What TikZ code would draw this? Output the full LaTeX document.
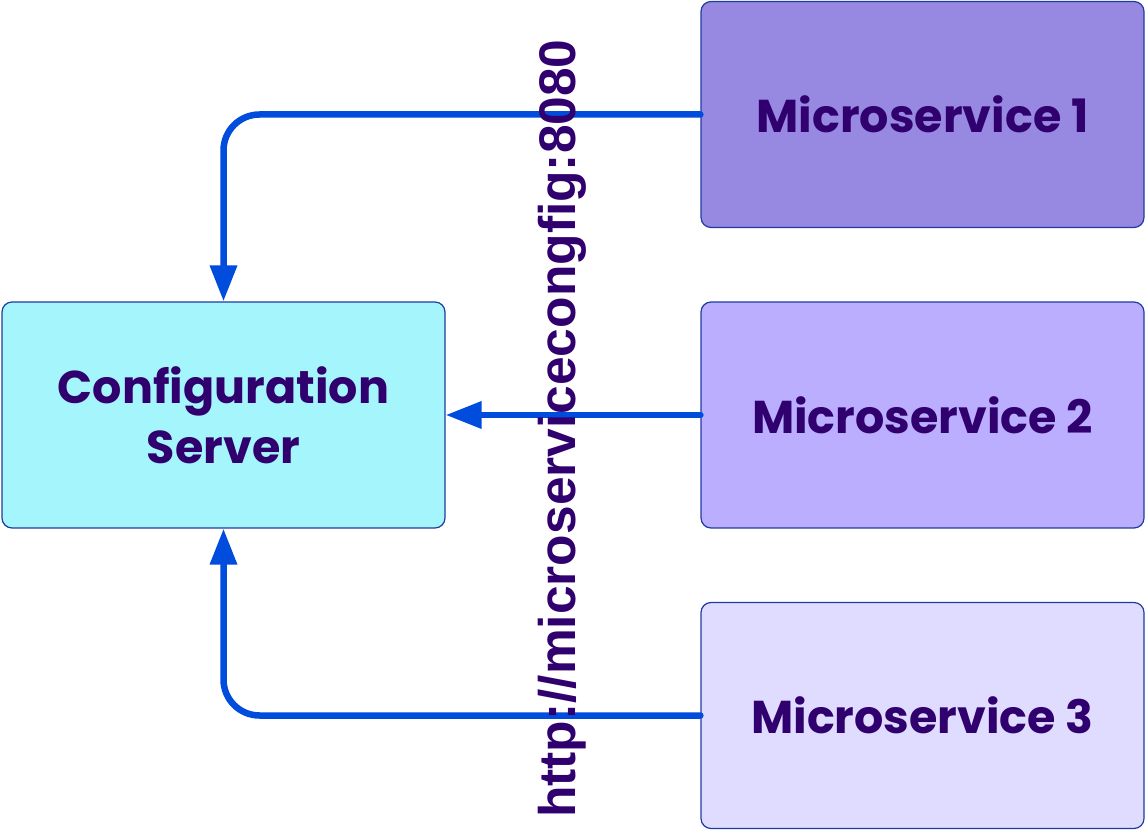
\documentclass[tikz,border=0pt]{standalone}
\usepackage{fontspec}
\setmainfont{Poppins}
\newfontfamily\urlfont{Liberation Sans}
\usetikzlibrary{arrows.meta}
\definecolor{txtc}{RGB}{48,0,110}
\definecolor{edgec}{RGB}{30,60,160}
\definecolor{arrc}{RGB}{0,76,220}
\definecolor{cfgfill}{RGB}{165,246,252}
\definecolor{msafill}{RGB}{151,136,225}
\definecolor{msbfill}{RGB}{187,174,255}
\definecolor{mscfill}{RGB}{224,220,255}
\tikzset{
  boxnode/.style={draw=edgec, line width=1.2pt, rounded corners=10pt,
    minimum width=443pt, minimum height=226pt, inner sep=0pt,
    text=txtc, align=center,
    font=\fontsize{46}{60}\selectfont\bfseries},
  conn/.style={draw=arrc, line width=6.5pt, rounded corners=36pt, line cap=round,
    -{Triangle[length=36pt,width=26pt]}},
  urllabel/.style={text=txtc, rotate=90, anchor=base west, inner sep=0pt,
    font=\fontsize{51.5}{60}\selectfont\urlfont\bfseries}
}
\begin{document}
\begin{tikzpicture}[x=1pt,y=1pt]
\useasboundingbox (0,0) rectangle (1145,830);
\node[boxnode, fill=cfgfill] (cfg) at (223.5,415) {Configuration\\Server};
\node[boxnode, fill=msafill] (ms1) at (922.5,715.5) {Microservice 1};
\node[boxnode, fill=msbfill] (ms2) at (922.5,415) {Microservice 2};
\node[boxnode, fill=mscfill] (ms3) at (922.5,114.5) {Microservice 3};
\draw[conn] (ms1.west) -| (cfg.north);
\draw[conn] (ms2.west) -- (cfg.east);
\draw[conn] (ms3.west) -| (cfg.south);
\node[urllabel] (url) at (575,12) {http://microservicecongfig:8080};
\end{tikzpicture}
\end{document}
